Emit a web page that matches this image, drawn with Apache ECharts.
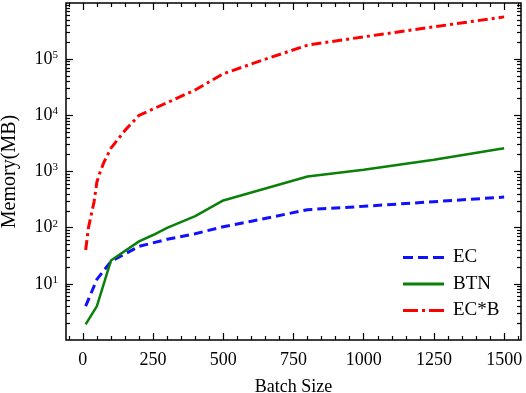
<!DOCTYPE html>
<html>
<head>
<meta charset="utf-8">
<script src="https://cdn.jsdelivr.net/npm/echarts@6/dist/echarts.min.js"></script>
<style>
  html, body { margin: 0; padding: 0; background: #fff; }
  #chart { width: 526px; height: 393px; }
</style>
</head>
<body>
<div id="chart"></div>
<script>
// values (batch size -> memory in MB)
var ecBatch = [10, 50, 100, 200, 300, 400, 500, 600, 800, 1000, 1500];
var ecMem = [4, 12, 25, 46.5, 62, 78, 104, 130, 209, 240, 351];

var btnBatch = [10, 50, 100, 200, 250, 300, 400, 500, 800, 1000, 1250, 1500];
var btnMem = [1.9, 4, 26, 57, 74, 99, 160, 305, 815, 1070, 1620, 2600];

var ecbBatch = [10, 20, 40, 50, 60, 75, 100, 150, 200, 300, 400, 500, 650, 800, 1000, 1500];
var ecbMem = [40, 100, 290, 650, 930, 1460, 2600, 5400, 10000, 16800, 28300, 55000, 100000, 178000, 250000, 566000];

var xLabels = [0, 250, 500, 750, 1000, 1250, 1500];
var xMinor = [-50, 50, 100, 150, 200, 300, 350, 400, 450, 550, 600, 650, 700, 800, 850, 900, 950,
  1050, 1100, 1150, 1200, 1300, 1350, 1400, 1450, 1550];
var yLabels = [10, 100, 1000, 10000, 100000];
var yMinor = [];
[1, 10, 100, 1000, 10000, 100000].forEach(function (d) {
  for (var k = 2; k <= 9; k++) yMinor.push(d * k);
});

function pairs(xs, ys) {
  return xs.map(function (x, i) { return [x, ys[i]]; });
}

var font = 'Liberation Serif';
var chart = echarts.init(document.getElementById('chart'));

function xAx(pos, ticks, len, labels) {
  return {
    type: 'value', position: pos, min: -60, max: 1560,
    axisLine: { show: false, onZero: false },
    splitLine: { show: false },
    axisTick: { show: true, inside: true, length: len, customValues: ticks,
      lineStyle: { color: '#000', width: 1.2 } },
    axisLabel: labels ? { show: true, customValues: xLabels, margin: 11,
      formatter: function (v) { return String(v); },
      color: '#000', fontFamily: font, fontSize: 18 } : { show: false }
  };
}
function yAx(pos, ticks, len, labels) {
  return {
    type: 'log', position: pos, min: 1, max: 1000000, logBase: 10,
    axisLine: { show: false, onZero: false },
    splitLine: { show: false },
    axisTick: { show: true, inside: true, length: len, customValues: ticks,
      lineStyle: { color: '#000', width: 1.2 } },
    axisLabel: labels ? {
      show: true, customValues: yLabels, margin: 8,
      formatter: function (v) {
        return '{b|10}{s|' + Math.round(Math.log10(v)) + '}';
      },
      rich: {
        b: { fontFamily: font, fontSize: 18, color: '#000' },
        s: { fontFamily: font, fontSize: 11, color: '#000', verticalAlign: 'top', padding: [0, 0, 8, 0] }
      }
    } : { show: false }
  };
}

var x0 = xAx('bottom', xLabels, 7, true);
x0.name = 'Batch Size';
x0.nameLocation = 'middle';
x0.nameGap = 38;
x0.nameTextStyle = { fontFamily: font, fontSize: 18, color: '#000' };

var y0 = yAx('left', yLabels, 7, true);
y0.name = 'Memory(MB)';
y0.nameLocation = 'middle';
y0.nameGap = 46;
y0.nameTextStyle = { fontFamily: font, fontSize: 20, color: '#000' };

var option = {
  animation: false,
  grid: {
    left: 66, right: 5, top: 3, bottom: 53,
    outerBoundsMode: 'none', containLabel: false,
    show: true, borderColor: '#000', borderWidth: 1.5, backgroundColor: '#fff'
  },
  xAxis: [
    x0,
    xAx('bottom', xMinor, 4, false),
    xAx('top', xLabels, 7, false),
    xAx('top', xMinor, 4, false)
  ],
  yAxis: [
    y0,
    yAx('left', yMinor, 4, false),
    yAx('right', yLabels, 7, false),
    yAx('right', yMinor, 4, false)
  ],
  legend: {
    orient: 'vertical',
    left: 398, top: 243,
    itemWidth: 41, itemHeight: 3, itemGap: 7.5,
    textStyle: { fontFamily: font, fontSize: 19, color: '#000', lineHeight: 18, padding: [0, 0, 0, 4] },
    data: [
      { name: 'EC', icon: 'path://M0 0h10v3H0z M15 0h10v3H15z M30 0h11v3H30z' },
      { name: 'BTN', icon: 'path://M0 0h41v3H0z' },
      { name: 'EC*B', icon: 'path://M0 0h15v3H0z M19 0h3v3H19z M26 0h15v3H26z' }
    ]
  },
  series: [
    {
      name: 'EC', type: 'line', symbol: 'none',
      data: pairs(ecBatch, ecMem),
      lineStyle: { color: '#1010ff', width: 3, type: [9, 5] },
      itemStyle: { color: '#1010ff' }
    },
    {
      name: 'BTN', type: 'line', symbol: 'none',
      data: pairs(btnBatch, btnMem),
      lineStyle: { color: '#0a800a', width: 2.5 },
      itemStyle: { color: '#0a800a' }
    },
    {
      name: 'EC*B', type: 'line', symbol: 'none',
      data: pairs(ecbBatch, ecbMem),
      lineStyle: { color: '#ff0000', width: 3, type: [10, 4, 3, 4] },
      itemStyle: { color: '#ff0000' }
    }
  ]
};
chart.setOption(option);
</script>
</body>
</html>
